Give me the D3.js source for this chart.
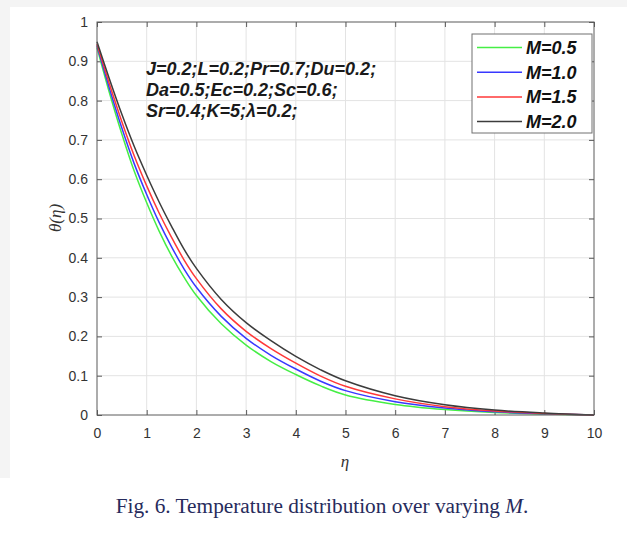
<!DOCTYPE html>
<html>
<head>
<meta charset="utf-8">
<script src="https://cdn.jsdelivr.net/npm/d3@7"></script>
<style>
  html, body { margin: 0; padding: 0; background: #ffffff; }
  svg { display: block; }
</style>
</head>
<body>
<svg id="chart" width="627" height="534"></svg>
<script>
// ---- data ----
const eta = [0, 0.25, 0.5, 0.75, 1, 1.25, 1.5, 1.75, 2, 2.5, 3, 3.5, 4, 4.5, 5, 6, 7, 8, 9, 10];
const thetaM05 = [0.935, 0.820, 0.715, 0.620, 0.540, 0.468, 0.405, 0.351, 0.304, 0.232, 0.178, 0.136, 0.103, 0.074, 0.051, 0.027, 0.014, 0.0065, 0.0025, 0];
const thetaM10 = [0.940, 0.831, 0.730, 0.639, 0.561, 0.490, 0.428, 0.372, 0.325, 0.251, 0.195, 0.152, 0.117, 0.086, 0.062, 0.034, 0.018, 0.0083, 0.0033, 0];
const thetaM15 = [0.944, 0.842, 0.746, 0.659, 0.583, 0.514, 0.452, 0.395, 0.347, 0.270, 0.213, 0.169, 0.132, 0.099, 0.073, 0.041, 0.021, 0.010, 0.004, 0];
const thetaM20 = [0.950, 0.855, 0.765, 0.683, 0.610, 0.542, 0.480, 0.422, 0.373, 0.294, 0.235, 0.189, 0.149, 0.115, 0.087, 0.049, 0.026, 0.0125, 0.005, 0];
const seriesNames = ["M=0.5", "M=1.0", "M=1.5", "M=2.0"];
const seriesColors = ["#45ee45", "#3838ff", "#ff3838", "#3c3c3c"];
const xTicks = [0, 1, 2, 3, 4, 5, 6, 7, 8, 9, 10];
const yTicks = [0, 0.1, 0.2, 0.3, 0.4, 0.5, 0.6, 0.7, 0.8, 0.9, 1];
const annotationLines = ["J=0.2;L=0.2;Pr=0.7;Du=0.2;", "Da=0.5;Ec=0.2;Sc=0.6;", "Sr=0.4;K=5;\u03bb=0.2;"];
const captionText = "Fig. 6. Temperature distribution over varying ";
const captionItalic = "M";

// ---- layout ----
const svg = d3.select("#chart");
const L = 97, R = 594, T = 22, B = 415;
const x = d3.scaleLinear().domain([0, 10]).range([L, R]);
const y = d3.scaleLinear().domain([0, 1]).range([B, T]);
const axisColor = "#5a5a5a";
const labelFont = "'Liberation Sans', Arial, Helvetica, sans-serif";

// faint screenshot border
svg.append("rect").attr("x", 0).attr("y", 0).attr("width", 627).attr("height", 7).attr("fill", "#f4f4f4");
svg.append("rect").attr("x", 0).attr("y", 0).attr("width", 10).attr("height", 478).attr("fill", "#f4f4f4");

// grid
const grid = svg.append("g");
grid.selectAll("line.vx").data(xTicks.slice(1, -1)).join("line")
  .attr("x1", d => x(d)).attr("x2", d => x(d)).attr("y1", T).attr("y2", B)
  .attr("stroke", "#e3e3e3").attr("stroke-width", 1);
grid.selectAll("line.hy").data(yTicks.slice(1, -1)).join("line")
  .attr("x1", L).attr("x2", R).attr("y1", d => y(d)).attr("y2", d => y(d))
  .attr("stroke", "#e3e3e3").attr("stroke-width", 1);

// axes (ticks inward, mirrored)
function styleAxis(g) {
  g.select(".domain").remove();
  g.selectAll(".tick line").attr("stroke", axisColor);
  g.selectAll(".tick text").attr("fill", "#333").style("font-family", labelFont).style("font-size", "14px");
}
svg.append("g").attr("transform", `translate(0,${B})`)
  .call(d3.axisBottom(x).tickValues(xTicks).tickSizeInner(-5).tickSizeOuter(0).tickPadding(13).tickFormat(d3.format("d")))
  .call(styleAxis);
svg.append("g").attr("transform", `translate(0,${T})`)
  .call(d3.axisTop(x).tickValues(xTicks).tickSizeInner(-5).tickSizeOuter(0).tickFormat(""))
  .call(styleAxis);
svg.append("g").attr("transform", `translate(${L},0)`)
  .call(d3.axisLeft(y).tickValues(yTicks).tickSizeInner(-5).tickSizeOuter(0).tickPadding(9).tickFormat(d => String(+d.toFixed(1))))
  .call(styleAxis);
svg.append("g").attr("transform", `translate(${R},0)`)
  .call(d3.axisRight(y).tickValues(yTicks).tickSizeInner(-5).tickSizeOuter(0).tickFormat(""))
  .call(styleAxis);

// curves
const allSeries = [thetaM05, thetaM10, thetaM15, thetaM20];
const line = d3.line().x(d => x(d[0])).y(d => y(d[1])).curve(d3.curveCatmullRom.alpha(0.5));
allSeries.forEach((s, i) => {
  svg.append("path")
    .datum(eta.map((e, j) => [e, s[j]]))
    .attr("d", line)
    .attr("fill", "none")
    .attr("stroke", seriesColors[i])
    .attr("stroke-width", 1.5);
});

// box
svg.append("rect").attr("x", L).attr("y", T).attr("width", R - L).attr("height", B - T)
  .attr("fill", "none").attr("stroke", axisColor).attr("stroke-width", 1);

// annotation
const ann = svg.append("text")
  .attr("font-family", labelFont).attr("font-weight", "bold").attr("font-style", "italic")
  .attr("font-size", 18).attr("fill", "#1a1a1a");
annotationLines.forEach((t, i) => {
  ann.append("tspan").attr("x", 146).attr("y", 75 + i * 21).text(t);
});

// legend
const lg = svg.append("g");
lg.append("rect").attr("x", 472).attr("y", 34).attr("width", 120).attr("height", 99)
  .attr("fill", "#fff").attr("stroke", "#707070").attr("stroke-width", 1);
seriesNames.forEach((n, i) => {
  const cy = 47.5 + i * 24.7;
  lg.append("line").attr("x1", 477).attr("x2", 522).attr("y1", cy).attr("y2", cy)
    .attr("stroke", seriesColors[i]).attr("stroke-width", 1.5);
  lg.append("text").attr("x", 526).attr("y", cy + 6.5)
    .attr("font-family", labelFont).attr("font-weight", "bold").attr("font-style", "italic")
    .attr("font-size", 18).attr("fill", "#111").text(n);
});

// axis titles
svg.append("text").attr("x", 345).attr("y", 467).attr("text-anchor", "middle")
  .attr("font-family", "'Liberation Serif', 'Times New Roman', serif").attr("font-style", "italic")
  .attr("font-size", 17).attr("fill", "#333").text("\u03b7");
svg.append("text").attr("transform", "translate(61,218) rotate(-90)").attr("text-anchor", "middle")
  .attr("font-family", "'Liberation Serif', 'Times New Roman', serif").attr("font-style", "italic")
  .attr("font-size", 17).attr("fill", "#333").text("\u03b8(\u03b7)");

// caption
const cap = svg.append("text").attr("x", 322).attr("y", 513).attr("text-anchor", "middle")
  .attr("font-family", "'Liberation Serif', 'Times New Roman', serif").attr("font-size", 21.3).attr("fill", "#272b5c");
cap.append("tspan").text(captionText);
cap.append("tspan").attr("font-style", "italic").text(captionItalic);
cap.append("tspan").text(".");
</script>
</body>
</html>
